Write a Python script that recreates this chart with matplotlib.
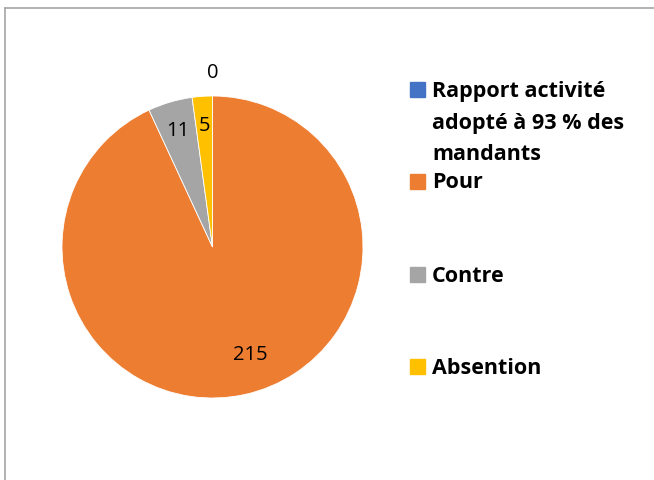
import numpy as np
import matplotlib
matplotlib.use("Agg")
import matplotlib.pyplot as plt
from matplotlib.lines import Line2D
from matplotlib.patches import Rectangle

categories = ["Rapport activité\nadopté à 93 % des\nmandants", "Pour", "Contre", "Absention"]
values = [0, 215, 11, 5]
colors = ["#4472C4", "#ED7D31", "#A5A5A5", "#FFC000"]

W, H = 654, 481
fig = plt.figure(figsize=(W / 100, H / 100), dpi=100)

# frame (only top and left visible in the crop)
fig.add_artist(Line2D([5 / W, 1], [1 - 9 / H, 1 - 9 / H], color="#a6a6a6", lw=1.2))
fig.add_artist(Line2D([5 / W, 5 / W], [0, 1 - 9 / H], color="#a6a6a6", lw=1.2))

ax = fig.add_axes([62 / W, (H - 399) / H, 301 / W, 302 / H])
wedges, _ = ax.pie(values, colors=colors, startangle=90, counterclock=False,
                   wedgeprops=dict(linewidth=0.6, edgecolor="white"))
ax.set_xlim(-1, 1)
ax.set_ylim(-1, 1)
ax.set_aspect("auto")

for w, v in zip(wedges, values):
    mid = (w.theta1 + w.theta2) / 2
    if v == 0:
        r = 1.16
    elif v > 100:
        r, mid = 0.75, mid + 7  # excel "best fit" nudges the big label
    else:
        r = 0.81
    mid = np.deg2rad(mid)
    ax.text(r * np.cos(mid), r * np.sin(mid), str(v), ha="center", va="center",
            fontsize=14.5, family="Open Sans", color="black", clip_on=False)

# legend
leg_y = [91, 183, 276, 368]
for lab, c, y in zip(categories, colors, leg_y):
    fig.add_artist(Rectangle((410 / W, 1 - (y + 7) / H), 15 / W, 15 / H,
                             color=c, transform=fig.transFigure))
    for i, line in enumerate(lab.split("\n")):
        fig.text(432 / W, 1 - (y + 32 * i) / H, line, ha="left", va="center",
                 fontsize=15.5, fontweight="bold", family="Open Sans",
                 color="black")

fig.savefig("out.png", dpi=100)
